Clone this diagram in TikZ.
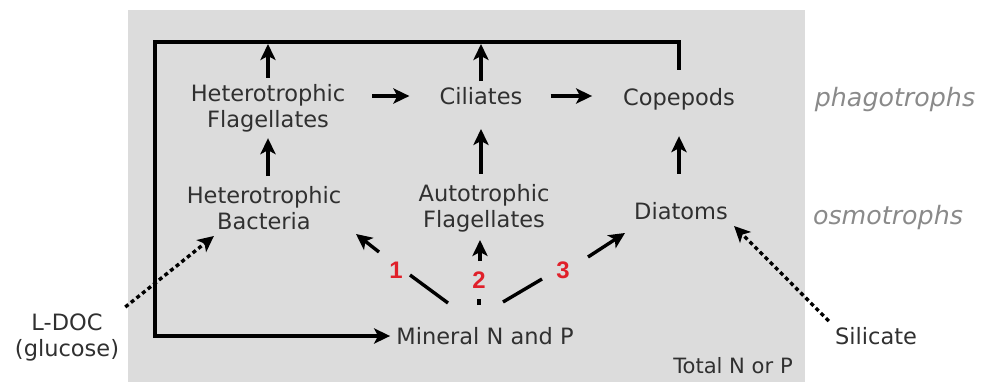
\documentclass[tikz,border=0pt]{standalone}
\usepackage{fontspec}
\setmainfont{DejaVu Sans}
\newfontfamily\numfont{Liberation Sans}
\usepackage{tikz}
\usetikzlibrary{arrows.meta, calc}

\definecolor{bggray}{HTML}{DCDCDC}
\definecolor{txtcol}{HTML}{303030}
\definecolor{labgray}{HTML}{8A8A8A}
\definecolor{numred}{HTML}{E0202A}

\tikzset{
  box/.style={text=txtcol, align=center, inner sep=0.15cm, font=\fontsize{16}{18.5}\selectfont},
  tip/.style={-{Stealth[length=0.4cm,width=0.38cm,inset=0.1cm]}},
  arr/.style={line width=0.085cm, tip},
  seg/.style={line width=0.085cm},
  frameline/.style={line width=0.1cm},
  dots/.style={arr, dash pattern=on 0.1cm off 0.08cm},
  num/.style={text=numred, font=\numfont\bfseries\fontsize{17}{19}\selectfont},
  trophic/.style={text=labgray, font=\itshape\fontsize{18}{21}\selectfont},
}

\begin{document}
\begin{tikzpicture}[x=0.025cm, y=-0.025cm]
		\useasboundingbox (0,0) rectangle (986,382);
		\fill [bggray] (128,10) rectangle (805,382);
		% compartments
		\node [box] (hf) at (268,108) {Heterotrophic\\Flagellates};
		\node [box] (cil) at (481,96) {Ciliates};
		\node [box] (cop) at (679,99) {Copepods};
		\node [box] (hb) at (264,208) {Heterotrophic\\Bacteria};
		\node [box] (af) at (484,208) {Autotrophic\\Flagellates};
		\node [box] (dia) at (681,211) {Diatoms};
		\node [box] (min) at (485,336) {Mineral N and P};
		\node [box] (ldoc) at (67,337) {L-DOC\\(glucose)};
		\node [box] (sil) at (876,336) {Silicate};
		\node [box, font=\fontsize{15}{18}\selectfont] (tot) at (733,366) {Total N or P};
		\node [trophic] (phago) at (895,100) {phagotrophs};
		\node [trophic] (osmo) at (888,218) {osmotrophs};
		% recycling loop
		\coordinate (corner) at (155,42);
		\draw [frameline, tip] ([yshift=0.3cm]cop.north) |- (corner) |- (min.west);
		\draw [arr, shorten >=0.05cm] (hf.north) -- (hf.north |- corner);
		\draw [arr, shorten >=0.05cm] (cil.north) -- (cil.north |- corner);
		% grazing
		\draw [arr, shorten <=0.52cm, shorten >=0.6cm] (hf.east |- cil) -- (cil.west);
		\draw [arr, shorten <=0.55cm, shorten >=0.62cm] (cil.east) -- (cil.east -| cop.west);
		\draw [arr, shorten <=0.1cm] (hf.south |- hb.north) -- (hf.south);
		\draw [arr, shorten <=0.1cm, shorten >=0.45cm] (cil.south |- af.north) -- (cil.south);
		\draw [arr, shorten <=0.1cm, shorten >=0.5cm] (cop.south |- af.north) -- (cop.south);
		% uptake of mineral nutrients
		\coordinate (a1) at (448,303); \coordinate (b1) at (410,275);
		\coordinate (c1) at (379,252); \coordinate (d1) at (356,234);
		\coordinate (a2) at (479,305); \coordinate (b2) at (479,299);
		\coordinate (c2) at (480,261); \coordinate (d2) at (480,240);
		\coordinate (a3) at (503,302); \coordinate (b3) at (542,279);
		\coordinate (c3) at (588,257); \coordinate (d3) at (625,233);
		\draw [seg] (a1) -- (b1);
		\draw [arr] (c1) -- (d1);
		\draw [seg] (a2) -- (b2);
		\draw [arr] (c2) -- (d2);
		\draw [seg] (a3) -- (b3);
		\draw [arr] (c3) -- (d3);
		\node [num] (n1) at (396,270) {1};
		\node [num] (n2) at (479,280) {2};
		\node [num] (n3) at (563,270) {3};
		% external sources
		\draw [dots] (ldoc.north east) -- ($(hb.south west)!0.2!(hb.south east)$);
		\draw [dots] (sil.north west) -- (dia.south east);
\end{tikzpicture}
\end{document}
